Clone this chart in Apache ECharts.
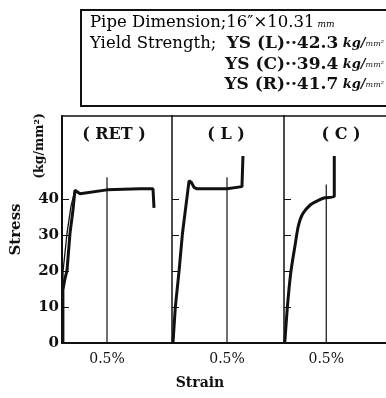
<!DOCTYPE html>
<html>
<head>
<meta charset="utf-8">
<script src="https://cdn.jsdelivr.net/npm/echarts@6/dist/echarts.min.js"></script>
<style>html,body{margin:0;padding:0;background:#fff;overflow:hidden;}#c{width:386px;height:398px;}</style>
</head>
<body>
<div id="c"></div>
<script>
// ---- data (strain in %, stress in kg/mm2) ----
const panels = ['( RET )', '( L )', '( C )'];
const stressTicks = [0, 10, 20, 30, 40];
const strainTick = [0.5];
const strainMax = [1.222, 1.018, 1.207];
const refLineTop = [46, 46, 44];

const retCurve = [[0.01,0],[0.01,14.7],[0.03,17.5],[0.056,20.2],[0.089,30.5],[0.122,36.9],[0.144,42.4],[0.2,41.4],[0.5,42.5],[0.867,42.8],[1.011,42.8],[1.022,42.8],[1.022,37.5]];
const retElastic = [[0.01,14],[0.012,20],[0.056,30.5],[0.1,38],[0.144,42.4]];
const lCurve = [[0.009,0],[0.03,9.9],[0.065,20.2],[0.095,30.4],[0.155,45.0],[0.175,44.6],[0.2,43.2],[0.227,42.8],[0.5,42.8],[0.636,43.4],[0.645,43.4],[0.645,51.9]];
const cCurve = [[0.009,0],[0.04,10],[0.08,19.5],[0.13,27],[0.17,32.5],[0.22,35.8],[0.31,38.3],[0.4,39.5],[0.483,40.3],[0.595,40.7],[0.595,51.9]];

const infoLines = ['Pipe Dimension;16\u2033\u00d710.31', 'Yield Strength;'];
const ysLabels = ['YS (L)', 'YS (C)', 'YS (R)'];
const ysValues = ['42.3', '39.4', '41.7'];

// ---- layout ----
const serif = 'DejaVu Serif';
const gridLefts = [62, 172, 284];
const gridWidths = [110, 112, 140];
const gridTop = 116, gridHeight = 227;

const grids = gridLefts.map((l, i) => ({
  left: l, top: gridTop, width: gridWidths[i], height: gridHeight, show: false
}));

const xAxes = [];
gridLefts.forEach((l, i) => {
  xAxes.push({
    type: 'value', gridIndex: i, min: 0, max: strainMax[i], position: 'bottom',
    splitLine: { show: false },
    axisLine: { show: true, lineStyle: { color: '#111', width: 2 } },
    axisTick: { show: false },
    axisLabel: {
      customValues: strainTick, formatter: v => v + '%',
      color: '#111', fontFamily: serif, fontSize: 14, margin: 9
    }
  });
});
gridLefts.forEach((l, i) => {
  xAxes.push({
    type: 'value', gridIndex: i, min: 0, max: strainMax[i], position: 'top',
    splitLine: { show: false },
    axisLine: { show: true, lineStyle: { color: '#111', width: 1.5 } },
    axisTick: { show: false }, axisLabel: { show: false }
  });
});

const yAxes = gridLefts.map((l, i) => ({
  type: 'value', gridIndex: i, min: 0, max: 63,
  splitLine: { show: false },
  axisLine: { show: true, lineStyle: { color: '#111', width: i === 0 ? 2 : 1.5 } },
  axisTick: { show: true, inside: true, length: 7, customValues: [10, 20, 30, 40], lineStyle: { color: '#111', width: 1 } },
  axisLabel: {
    show: i === 0, customValues: stressTicks, color: '#111',
    fontFamily: serif, fontSize: 15, fontWeight: 'bold', margin: 3
  },
  name: i === 0 ? 'Stress' : '', nameLocation: 'middle', nameGap: 38, nameRotate: 90,
  nameTextStyle: { color: '#111', fontFamily: serif, fontSize: 15, fontWeight: 'bold' }
}));

const curveStyle = { color: '#111', width: 3 };
const series = [];
[retCurve, lCurve, cCurve].forEach((d, i) => {
  series.push({ type: 'line', xAxisIndex: i, yAxisIndex: i, data: d, showSymbol: false, smooth: i === 2 ? 0.25 : false,
    lineStyle: curveStyle, silent: true });
  series.push({ type: 'line', xAxisIndex: i, yAxisIndex: i, data: [[0.5, 0], [0.5, refLineTop[i]]],
    showSymbol: false, lineStyle: { color: '#111', width: 1.2 }, silent: true });
});
series.push({ type: 'line', xAxisIndex: 0, yAxisIndex: 0, data: retElastic, showSymbol: false,
  lineStyle: { color: '#111', width: 1.3 }, silent: true });

const unitRich = {
  n: { fontFamily: serif, fontSize: 17, fontWeight: 'bold', color: '#111' },
  u: { fontFamily: serif, fontSize: 13, fontStyle: 'italic', fontWeight: 'bold', color: '#111' },
  m: { fontFamily: serif, fontSize: 8, fontStyle: 'italic', color: '#111' }
};
const headRich = {
  t: { fontFamily: serif, fontSize: 16.5, color: '#111' },
  s: { fontFamily: serif, fontSize: 9, fontStyle: 'italic', color: '#111', padding: [4, 0, 0, 3] }
};

const graphic = [
  { type: 'polyline', shape: { points: [[420, 10], [81, 10], [81, 106], [420, 106]] }, style: { fill: 'none', stroke: '#111', lineWidth: 2 } },
  { type: 'text', x: 90, y: 23, style: { text: '{t|' + infoLines[0] + '}{s|mm}', rich: headRich, verticalAlign: 'middle' } },
  { type: 'text', x: 90, y: 44, style: { text: '{t|' + infoLines[1] + '}', rich: headRich, verticalAlign: 'middle' } }
];
ysLabels.forEach((lab, k) => {
  graphic.push({ type: 'text', x: 384, y: [44, 64.5, 85][k], style: {
    text: '{n|' + lab + '\u00b7\u00b7' + ysValues[k] + '}{u| kg/}{m|mm²}',
    rich: unitRich, align: 'right', verticalAlign: 'middle', fill: '#111' } });
});
panels.forEach((t, i) => {
  graphic.push({ type: 'text', x: gridLefts[i] + [52, 54, 57][i], y: 135, style: {
    text: t, font: 'bold 16px "' + serif + '"', fill: '#111', align: 'center', verticalAlign: 'middle' } });
});
graphic.push({ type: 'text', x: 200, y: 383, style: { text: 'Strain', font: 'bold 14px "' + serif + '"', fill: '#111', align: 'center', verticalAlign: 'middle' } });
graphic.push({ type: 'text', x: 40, y: 146, rotation: Math.PI / 2, style: {
  text: '(kg/mm²)', font: 'bold 12.5px "' + serif + '"', fill: '#111', align: 'center', verticalAlign: 'middle' } });

const chart = echarts.init(document.getElementById('c'), null, { renderer: 'canvas' });
chart.setOption({
  animation: false,
  backgroundColor: '#fff',
  grid: grids, xAxis: xAxes, yAxis: yAxes, series: series, graphic: graphic
});
</script>
</body>
</html>
